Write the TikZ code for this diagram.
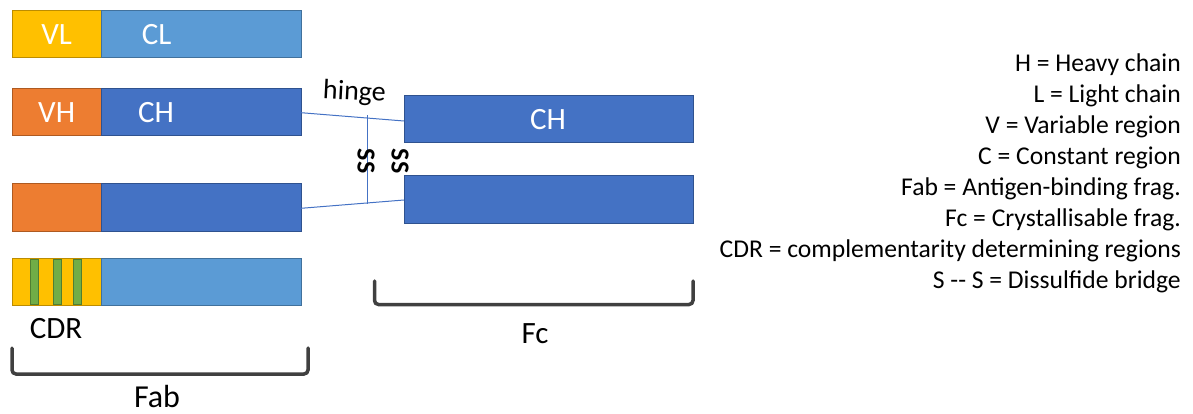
\documentclass[tikz,border=0pt]{standalone}
\usepackage{fontspec}
\setmainfont{Carlito}
\definecolor{vlfill}{HTML}{FFC000}
\definecolor{vldraw}{HTML}{BC8C00}
\definecolor{clfill}{HTML}{5B9BD5}
\definecolor{cldraw}{HTML}{41719C}
\definecolor{vhfill}{HTML}{ED7D31}
\definecolor{vhdraw}{HTML}{AE5A21}
\definecolor{chfill}{HTML}{4472C4}
\definecolor{chdraw}{HTML}{2F528F}
\definecolor{cdrfill}{HTML}{70AD47}
\definecolor{cdrdraw}{HTML}{507E32}
\definecolor{brk}{HTML}{404040}
\tikzset{
  blk/.style={rectangle, inner sep=0pt, outer sep=0pt, line width=1pt, anchor=north west},
  vl/.style={blk, fill=vlfill, draw=vldraw},
  cl/.style={blk, fill=clfill, draw=cldraw},
  vh/.style={blk, fill=vhfill, draw=vhdraw},
  ch/.style={blk, fill=chfill, draw=chdraw},
  cdr/.style={blk, fill=cdrfill, draw=cdrdraw},
  wtxt/.style={text=white, font=\fontsize{31}{36}\selectfont, inner sep=0pt, anchor=base},
  btxt/.style={text=black, font=\fontsize{31}{36}\selectfont, inner sep=0pt, anchor=base},
  leg/.style={anchor=base east, inner sep=0pt, font=\fontsize{25.6}{30}\selectfont},
  hlink/.style={draw=chfill, line width=1pt},
  bracket/.style={draw=brk, line width=3.5pt, rounded corners=4pt, line cap=round},
  sstxt/.style={inner sep=0pt, rotate=-90, font=\bfseries\fontsize{26}{30}\selectfont},
}
\begin{document}
\begin{tikzpicture}[x=1pt,y=-1pt]
\useasboundingbox (0,0) rectangle (1193,414);
% row 1: light chain
\node[vl, minimum width=89pt, minimum height=47pt] (vl) at (12,11) {};
\node[cl, minimum width=200pt, minimum height=47pt] (cl) at (101,11) {};
\node[wtxt] (vlt) at (56.7,45) {VL};
\node[wtxt] (clt) at (156.7,45) {CL};
% row 2: heavy chain
\node[vh, minimum width=89pt, minimum height=47pt] (vh) at (12,89) {};
\node[ch, minimum width=200pt, minimum height=47pt] (ch) at (101,89) {};
\node[wtxt] (vht) at (56.7,123) {VH};
\node[wtxt] (cht) at (156,123) {CH};
% row 3
\node[vh, minimum width=89pt, minimum height=47pt] (vh2) at (12,184) {};
\node[ch, minimum width=200pt, minimum height=47pt] (ch2) at (101,184) {};
% row 4 with CDRs
\node[vl, minimum width=89pt, minimum height=47pt] (vl2) at (12,258) {};
\node[cl, minimum width=200pt, minimum height=47pt] (cl2) at (101,258) {};
\node[cdr, minimum width=8pt, minimum height=45pt] (cdr1) at (30,259) {};
\node[cdr, minimum width=8pt, minimum height=45pt] (cdr2) at (53,259) {};
\node[cdr, minimum width=8pt, minimum height=45pt] (cdr3) at (73,259) {};
% Fc
\node[ch, minimum width=289pt, minimum height=47pt] (fc1) at (404,96) {};
\node[ch, minimum width=289pt, minimum height=47pt] (fc2) at (404,176) {};
\node[wtxt] (fct) at (548,130) {CH};
% hinge
\coordinate (h1) at (301,112.7);
\coordinate (h2) at (404,121);
\coordinate (h3) at (301,208.3);
\coordinate (h4) at (404,200);
\draw[hlink] (h1) -- (h2);
\draw[hlink] (h3) -- (h4);
\coordinate (v1) at (367.5,115.5);
\coordinate (v2) at (367.5,203.5);
\draw[hlink] (v1) -- (v2);
\node[inner sep=0pt, anchor=base, rotate=-3, font=\fontsize{28}{32}\selectfont] (hinge) at (354,100) {hinge};
\node[sstxt] (ss1) at (366,161) {SS};
\node[sstxt] (ss2) at (400,161) {SS};
% labels
\node[btxt] (cdrt) at (56,338) {CDR};
% brackets
\coordinate (fa1) at (12,348);
\coordinate (fa2) at (12,374);
\coordinate (fa3) at (308,374);
\coordinate (fa4) at (308,348);
\draw[bracket] (fa1) -- (fa2) -- (fa3) -- (fa4);
\node[btxt, font=\fontsize{32}{36}\selectfont] (fab) at (157,407) {Fab};
\coordinate (fc1a) at (374.5,281);
\coordinate (fc1b) at (374.5,304.5);
\coordinate (fc1c) at (693,304.5);
\coordinate (fc1d) at (693,281);
\draw[bracket] (fc1a) -- (fc1b) -- (fc1c) -- (fc1d);
\node[btxt] (fct2) at (535,343) {Fc};
% legend
\node[leg] (lg1) at (1181,72) {H = Heavy chain};
\node[leg] (lg2) at (1181,102.9) {L = Light chain};
\node[leg] (lg3) at (1181,133.7) {V = Variable region};
\node[leg] (lg4) at (1181,164.6) {C = Constant region};
\node[leg] (lg5) at (1181,195.4) {Fab = Antigen-binding frag.};
\node[leg] (lg6) at (1181,226.3) {Fc = Crystallisable frag.};
\node[leg] (lg7) at (1181,257.1) {CDR = complementarity determining regions};
\node[leg] (lg8) at (1181,288) {S -{}- S = Dissulfide bridge};
\end{tikzpicture}
\end{document}
